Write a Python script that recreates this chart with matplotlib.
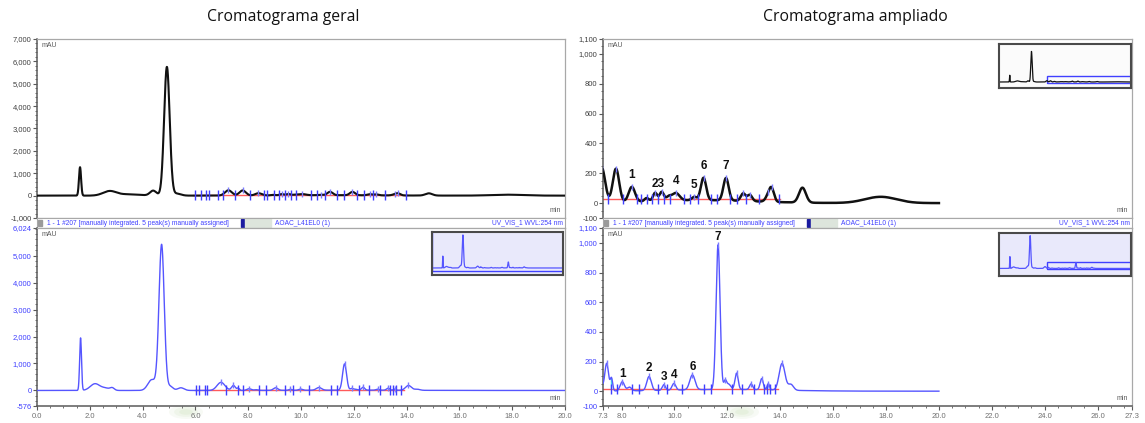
import numpy as np
import matplotlib
matplotlib.use("Agg")
import matplotlib.pyplot as plt
from matplotlib.ticker import FixedLocator, MultipleLocator, FuncFormatter
from matplotlib.patches import Rectangle, Ellipse

# ---------------------------------------------------------------- data
# Upper run (black trace): retention time (min), height (mAU), peak width (min)
upper_rt = [1.63, 2.75, 3.5, 4.4, 4.92, 5.3, 7.25, 7.79, 8.39, 8.95, 9.27, 9.52,
            9.78, 10.05, 10.75, 11.10, 11.95, 12.6, 12.85, 13.55, 13.68, 14.84,
            17.8, 11.0]
upper_height = [1270, 200, 60, 220, 5750, 90, 235, 225, 100, 22, 55, 60,
                25, 50, 22, 150, 150, 50, 42, 40, 80, 100,
                42, 20]
upper_width = [0.04, 0.25, 0.4, 0.12, 0.105, 0.15, 0.13, 0.12, 0.12, 0.08, 0.08, 0.08,
               0.09, 0.14, 0.09, 0.1, 0.1, 0.09, 0.09, 0.1, 0.09, 0.13,
               0.6, 2.0]
upper_apex = [7.25, 7.79, 8.39, 9.27, 9.52, 10.05, 10.75, 11.10, 11.95, 12.6,
              12.85, 13.55, 13.68]
upper_delims = [6.0, 6.2, 6.4, 6.5, 6.85, 7.05, 7.49, 8.06, 8.6, 8.72, 8.97, 9.16,
                9.38, 9.62, 9.82, 10.36, 10.6, 10.9, 11.37, 11.62, 12.12, 12.38,
                12.72, 13.2, 13.96]
upper_base = (5.9, 14.0, 25)          # start, end, level of integration baseline
upper_labels = ["1", "23", "4", "5", "6", "7"]
upper_label_rt = [8.39, 9.40, 10.05, 10.75, 11.10, 11.95]

# Lower run (blue trace)
lower_rt = [1.65, 2.2, 2.6, 2.85, 4.35, 4.72, 5.05, 5.45, 6.97, 7.44, 7.62, 8.03,
            8.3, 9.04, 9.6, 9.98, 10.68, 11.65, 11.92, 12.05, 12.35, 12.9, 13.3,
            13.55, 14.07, 14.4, 12.0]
lower_height = [1950, 250, 80, 90, 400, 5400, 150, 100, 300, 185, 85, 62,
                25, 95, 38, 45, 100, 975, 55, 35, 110, 38, 75,
                42, 180, 40, 12]
lower_width = [0.035, 0.18, 0.15, 0.08, 0.15, 0.1, 0.1, 0.12, 0.15, 0.07, 0.045, 0.08,
               0.08, 0.085, 0.06, 0.07, 0.1, 0.075, 0.05, 0.08, 0.06, 0.06, 0.06,
               0.045, 0.11, 0.1, 2.0]
lower_apex = [6.97, 7.44, 8.03, 9.04, 9.6, 9.98, 10.68, 11.65, 11.92, 12.35, 12.9,
              13.3, 13.55, 14.07]
lower_delims = [6.03, 6.15, 6.35, 6.45, 7.15, 7.6, 7.82, 8.41, 8.66, 9.38, 9.71,
                10.3, 11.12, 11.37, 12.19, 12.57, 13.01, 13.39, 13.5, 13.6, 13.8]
lower_base = (6.0, 13.9, 15)
lower_labels = ["1", "2", "3", "4", "6", "7"]
lower_label_rt = [8.03, 9.04, 9.6, 9.98, 10.68, 11.65]

header_left = "1 - 1 #207 [manually integrated. 5 peak(s) manually assigned]"
header_mid = "AOAC_L41EL0 (1)"
header_right = "UV_VIS_1 WVL:254 nm"

left_title = "Cromatograma geral"
right_title = "Cromatograma ampliado"

full_xlim = (0.0, 20.0)
zoom_xlim = (7.3, 27.3)
upper_full_ylim = (-1000, 7000)
lower_full_ylim = (-576, 6024)
upper_zoom_ylim = (-100, 1100)
lower_zoom_ylim = (-100, 1100)

# ---------------------------------------------------------------- helpers
W, H = 1145, 423
fig = plt.figure(figsize=(W / 100, H / 100), dpi=100)
plt.rcParams["font.family"] = ["Liberation Sans", "DejaVu Sans"]

BLACK = "#111111"
BLUE = "#5555ff"
TICKBLUE = "#3f3fff"
RED = "#ff5a5a"
CYAN = "#3fd8e8"
GREY = "#5a5a5a"
FRAME = "#a8a8a8"

t = np.arange(0.0, 20.0001, 0.004)


def trace(rt, h, w):
    y = np.zeros_like(t)
    for r, a, s in zip(rt, h, w):
        y += a * np.exp(-0.5 * ((t - r) / s) ** 2)
    return y


upper = trace(upper_rt, upper_height, upper_width)
lower = trace(lower_rt, lower_height, lower_width)


def px_axes(x0, y0, x1, y1):
    return fig.add_axes([x0 / W, 1 - y1 / H, (x1 - x0) / W, (y1 - y0) / H])


def thousands(v, pos):
    return f"{v:,.0f}"


def style_panel(ax, xlim, ylim, yticks, yminor, label_color, show_x):
    ax.set_xlim(*xlim)
    ax.set_ylim(*ylim)
    for side in ("top", "right", "bottom"):
        ax.spines[side].set_color(FRAME)
        ax.spines[side].set_linewidth(0.9)
    ax.spines["left"].set_color(GREY)
    ax.spines["left"].set_linewidth(1.1)
    ax.yaxis.set_major_locator(FixedLocator(yticks))
    ax.yaxis.set_minor_locator(MultipleLocator(yminor))
    ax.yaxis.set_major_formatter(FuncFormatter(thousands))
    ax.tick_params(axis="y", which="major", length=3, width=0.8, color=GREY,
                   labelsize=5.5, labelcolor=label_color, pad=1)
    ax.tick_params(axis="y", which="minor", length=1.6, width=0.6, color=GREY)
    if show_x:
        ax.spines["bottom"].set_color(GREY)
        ax.spines["bottom"].set_linewidth(1.1)
        lo, hi = xlim
        majors = [lo] + [v for v in np.arange(np.ceil(lo / 2) * 2, hi, 2.0)
                         if v - lo > 0.5 and hi - v > 0.5] + [hi]
        ax.xaxis.set_major_locator(FixedLocator(majors))
        ax.xaxis.set_minor_locator(MultipleLocator(0.5))
        ax.xaxis.set_major_formatter(FuncFormatter(lambda v, p: f"{v:.1f}"))
        ax.tick_params(axis="x", which="major", length=3, width=0.8, color=GREY,
                       labelsize=5.5, labelcolor="#707070", pad=2)
        ax.tick_params(axis="x", which="minor", length=1.6, width=0.6, color=GREY)
    else:
        ax.tick_params(axis="x", which="both", bottom=False, labelbottom=False)
    ax.text(0.008, 0.985, "mAU", transform=ax.transAxes, ha="left", va="top",
            fontsize=5, color=GREY)
    ax.text(0.992, 0.02, "min", transform=ax.transAxes, ha="right", va="bottom",
            fontsize=5, color=GREY)


def draw_trace(ax, y, color, lw, apex, delims, base, cyan=False):
    t0, t1, level = base
    ax.plot(t, y, color=color, lw=lw, zorder=3, solid_joinstyle="round")
    ax.plot([t0, t1], [level, level], color=RED, lw=1.0, zorder=2)
    if cyan:
        yd = np.interp(delims, t, y)
        ax.vlines(delims, level, yd, color=CYAN, lw=1.0, zorder=2.5)
    ax.plot(delims, [level] * len(delims), ls="none", marker="|", ms=6.5,
            mew=1.0, color=TICKBLUE, zorder=4)
    ax.plot(apex, np.interp(apex, t, y), ls="none", marker="|", ms=5,
            mew=1.0, color="#7a7aff", zorder=4)


def peak_labels(ax, y, rts, labels, dy):
    for r, lab in zip(rts, labels):
        ax.annotate(lab, (r, np.interp(r, t, y)), xytext=(0, dy),
                    textcoords="offset points", ha="center", va="bottom",
                    fontsize=8.5, fontweight="bold", color=BLACK, zorder=6)


def header(x0, x1, y0, y1):
    hx = px_axes(x0, y0, x1, y1)
    hx.set_xlim(0, x1 - x0)
    hx.set_ylim(0, 1)
    hx.set_xticks([])
    hx.set_yticks([])
    for s in hx.spines.values():
        s.set_color(FRAME)
        s.set_linewidth(0.8)
    hx.add_patch(Rectangle((1, 0.2), 4, 0.6, color="#9a9a9a"))
    hx.text(10, 0.5, header_left, fontsize=4.8, color=TICKBLUE,
            ha="left", va="center")
    hx.add_patch(Rectangle((204, 0.1), 3, 0.8, color="#1a1aa0"))
    hx.add_patch(Rectangle((208, 0.05), 26, 0.9, color="#dde5dc"))
    hx.text(238, 0.5, header_mid, fontsize=4.8, color=TICKBLUE,
            ha="left", va="center")
    hx.text(x1 - x0 - 2, 0.5, header_right, fontsize=4.8, color=TICKBLUE,
            ha="right", va="center")


def inset(x0, y0, x1, y1, y, color, ylim, box, bg):
    ix = px_axes(x0, y0, x1, y1)
    ix.set_facecolor(bg)
    ix.plot(t, y, color=color, lw=0.9)
    bx0, bx1, by0, by1 = box
    ix.add_patch(Rectangle((bx0, by0), bx1 - bx0, by1 - by0, fill=False,
                           edgecolor="#4040ff", lw=1.0))
    ix.set_xlim(*full_xlim)
    ix.set_ylim(*ylim)
    ix.set_xticks([])
    ix.set_yticks([])
    for s in ix.spines.values():
        s.set_color("#4a4a4a")
        s.set_linewidth(1.5)


# ---------------------------------------------------------------- titles
fig.text(283 / W, 1 - 17 / H, left_title, ha="center", va="center",
         fontsize=11.3, family=["Open Sans", "DejaVu Sans"], color="#111111")
fig.text(855 / W, 1 - 17 / H, right_title, ha="center", va="center",
         fontsize=11.3, family=["Open Sans", "DejaVu Sans"], color="#111111")

# soft greenish smudges under the time axes
bg_ax = fig.add_axes([0, 0, 1, 1], zorder=-1)
bg_ax.set_xlim(0, W)
bg_ax.set_ylim(H, 0)
bg_ax.axis("off")
for cx in (186, 742):
    for k, a in ((1.0, 0.10), (0.7, 0.12), (0.4, 0.15)):
        bg_ax.add_patch(Ellipse((cx, 412), 34 * k, 14 * k, color="#b9d6a0",
                                alpha=a, lw=0))

# ---------------------------------------------------------------- left: full run
ax = px_axes(37, 39, 565, 218)
style_panel(ax, full_xlim, upper_full_ylim, list(range(-1000, 7001, 1000)),
            200, "#404040", False)
draw_trace(ax, upper, BLACK, 1.5, upper_apex, upper_delims, upper_base)

header(37, 565, 218, 228)

ax = px_axes(37, 228, 565, 406)
style_panel(ax, full_xlim, lower_full_ylim, [-576, 0, 1000, 2000, 3000, 4000,
            5000, 6024], 200, TICKBLUE, True)
draw_trace(ax, lower, BLUE, 1.0, lower_apex, lower_delims, lower_base)
inset(432, 232, 563, 275, lower, BLUE, (-1150, 5900),
      (0.0, 20.0, -576, 6024), "#e9e9fb")

# ---------------------------------------------------------------- right: zoom
ax = px_axes(603, 39, 1132, 218)
style_panel(ax, zoom_xlim, upper_zoom_ylim, [-100, 0, 200, 400, 600, 800, 1000,
            1100], 50, "#404040", False)
draw_trace(ax, upper, BLACK, 1.8, upper_apex, upper_delims, upper_base, cyan=True)
peak_labels(ax, upper, upper_label_rt, upper_labels, 4)
inset(999, 44, 1131, 88, upper, BLACK, (-1130, 7150),
      (7.3, 27.3, -100, 1100), "#fbfbfb")

header(603, 1132, 218, 228)

ax = px_axes(603, 228, 1132, 406)
style_panel(ax, zoom_xlim, lower_zoom_ylim, [-100, 0, 200, 400, 600, 800, 1000,
            1100], 50, TICKBLUE, True)
draw_trace(ax, lower, BLUE, 1.0, lower_apex, lower_delims, lower_base, cyan=True)
peak_labels(ax, lower, lower_label_rt, lower_labels, 1.5)
inset(999, 233, 1131, 276, lower, BLUE, (-1250, 5850),
      (7.3, 27.3, -100, 1100), "#e9e9fb")

fig.savefig("out.png", dpi=100)
